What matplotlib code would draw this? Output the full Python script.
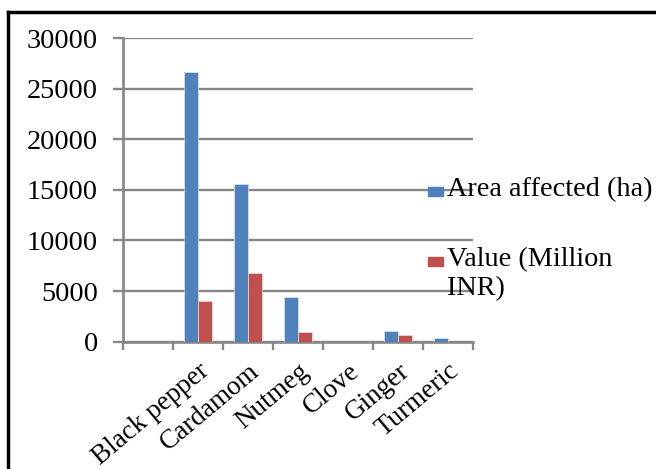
import matplotlib.pyplot as plt
from matplotlib.lines import Line2D
from matplotlib.patches import Rectangle
import matplotlib.transforms as mtransforms
import numpy as np

# spices (first slot is empty in the original chart)
crops = ["", "Black pepper", "Cardamom", "Nutmeg", "Clove", "Ginger", "Turmeric"]
area_ha = [0, 26650, 15600, 4450, 0, 1100, 400]
value_minr = [0, 4000, 6800, 1000, 0, 650, 0]
yticks = [0, 5000, 10000, 15000, 20000, 25000, 30000]

blue = "#4F81BD"
red = "#C0504D"
grey = "#868686"

plt.rcParams["font.family"] = ["Liberation Serif", "DejaVu Serif"]

fig = plt.figure(figsize=(6.56, 4.69), dpi=100)
ax = fig.add_axes([123 / 656, 1 - 341.7 / 469, 350 / 656, 303.7 / 469])

x = np.arange(len(crops))
w = 0.286
ax.bar(x - w / 2, area_ha, w, color=blue, edgecolor="#dce6f2", linewidth=0.5, zorder=3)
ax.bar(x + w / 2, value_minr, w, color=red, edgecolor="#f2dcdb", linewidth=0.5, zorder=3)

ax.set_xlim(-0.5, len(crops) - 0.5)
ax.set_ylim(0, 30000)
ax.set_yticks(yticks)
ax.set_yticklabels([str(v) for v in yticks], fontsize=20.3)
ax.yaxis.grid(True, color=grey, linewidth=1.7, zorder=0)

# category boundary ticks, labels at centres
ax.set_xticks(np.arange(len(crops) + 1) - 0.5)
ax.set_xticklabels([])
ax.set_xticks(x, minor=True)
ax.set_xticklabels(crops, minor=True, rotation=40, ha="right", va="top",
                   rotation_mode="anchor", fontsize=19.5)
shift = mtransforms.ScaledTranslation(-3 / 100, 0, fig.dpi_scale_trans)
for lab in ax.get_xticklabels(minor=True):
    lab.set_transform(lab.get_transform() + shift)
ax.tick_params(axis="x", which="minor", length=0, pad=12)
ax.tick_params(axis="x", which="major", length=6, width=1.7, color=grey)
ax.tick_params(axis="y", length=7, width=1.7, color=grey, pad=11)

for s in ["top", "right"]:
    ax.spines[s].set_visible(False)
for s in ["left", "bottom"]:
    ax.spines[s].set_color(grey)
    ax.spines[s].set_linewidth(1.9)

# legend drawn by hand to keep the Excel look
def fx(px):
    return px / 656

def fy(py):
    return 1 - py / 469

fig.add_artist(Rectangle((fx(428), fy(196)), 15 / 656, 9 / 469, color=blue))
fig.add_artist(Rectangle((fx(428), fy(266)), 15 / 656, 9 / 469, color=red))
fig.text(fx(447), fy(190), "Area affected (ha)", fontsize=20.3, va="center")
fig.text(fx(447), fy(260), "Value (Million", fontsize=20.3, va="center")
fig.text(fx(447), fy(289), "INR)", fontsize=20.3, va="center")

# outer frame (top and left edges visible)
fig.add_artist(Line2D([fx(7.5), 1], [fy(12.5), fy(12.5)], color="black", linewidth=2.5))
fig.add_artist(Line2D([fx(7.5), fx(7.5)], [fy(12.5), 0], color="black", linewidth=2.5))

fig.savefig("out.png", dpi=100)
